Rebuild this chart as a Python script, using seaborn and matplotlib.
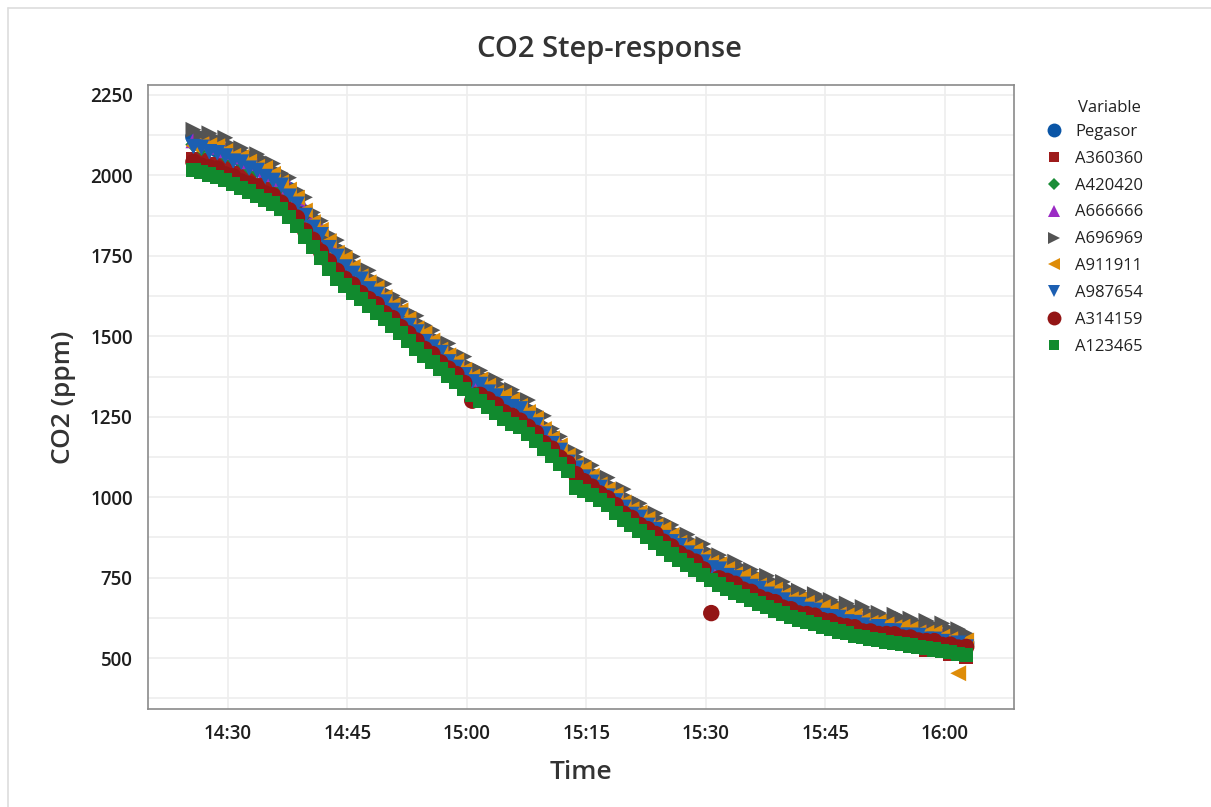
import matplotlib
matplotlib.use("Agg")
import matplotlib.pyplot as plt
import matplotlib.dates as mdates
from matplotlib.lines import Line2D
from matplotlib.ticker import MultipleLocator
import numpy as np
import pandas as pd
import seaborn as sns

# ---------------- data ----------------
start_time = "2024-01-01 14:25:40"
n_samples = 98   # one reading per minute

pegasor = [2120, 2112, 2100, 2080, 2069, 2064, 2049, 2035, 2030, 2011,
           2000, 1975, 1955, 1920, 1884, 1858, 1823, 1788, 1763, 1730,
           1711, 1683, 1667, 1595, 1615, 1600, 1573, 1546, 1528, 1498,
           1482, 1455, 1440, 1413, 1389, 1378, 1358, 1339, 1329, 1305,
           1297, 1280, 1264, 1234, 1205, 1186, 1153, 1121, 1105, 1077,
           1062, 1036, 1023, 998, 977, 966, 945, 925, 914, 889,
           877, 855, 846, 825, 807, 800, 784, 769, 764, 744,
           738, 722, 718, 702, 689, 686, 674, 664, 663, 647,
           644, 632, 632, 620, 611, 613, 605, 597, 599, 586,
           586, 576, 578, 568, 560, 562, 554, 547]

a360360 = [2050, 2048, 2034, 2031, 2027, 2007, 2000, 1985, 1969, 1967,
           1955, 1940, 1906, 1881, 1852, 1811, 1784, 1748, 1712, 1696,
           1666, 1648, 1618, 1601, 1583, 1553, 1534, 1506, 1477, 1464,
           1445, 1428, 1399, 1382, 1365, 1339, 1327, 1307, 1286, 1279,
           1260, 1253, 1223, 1203, 1181, 1147, 1122, 1089, 1062, 1051,
           1025, 1009, 982, 967, 953, 927, 914, 893, 871, 863,
           840, 828, 805, 794, 783, 761, 753, 737, 721, 718,
           701, 695, 677, 671, 665, 647, 643, 632, 620, 621,
           607, 605, 591, 589, 587, 564, 564, 555, 546, 550,
           539, 539, 527, 527, 526, 513, 513, 505]

a420420 = [2096, 2085, 2083, 2077, 2063, 2053, 2044, 2025, 2016, 2008,
           1991, 1967, 1945, 1917, 1878, 1847, 1818, 1778, 1749, 1727,
           1702, 1675, 1657, 1637, 1609, 1589, 1568, 1536, 1514, 1495,
           1473, 1447, 1430, 1410, 1383, 1367, 1353, 1329, 1315, 1302,
           1288, 1272, 1254, 1231, 1199, 1175, 1148, 1111, 1091, 1074,
           1053, 1028, 1013, 995, 971, 955, 940, 915, 900, 886,
           868, 847, 836, 822, 801, 789, 779, 759, 750, 741,
           729, 714, 708, 699, 683, 675, 669, 654, 649, 644,
           635, 624, 622, 617, 605, 602, 600, 587, 585, 583,
           577, 568, 568, 565, 554, 551, 549, 537]

a666666 = [2109, 2107, 2103, 2089, 2078, 2073, 2059, 2044, 2038, 2018,
           2004, 1989, 1965, 1929, 1893, 1867, 1833, 1797, 1771, 1737,
           1715, 1697, 1677, 1649, 1624, 1609, 1583, 1555, 1536, 1505,
           1486, 1469, 1450, 1422, 1398, 1387, 1368, 1348, 1337, 1312,
           1301, 1294, 1274, 1243, 1214, 1195, 1163, 1130, 1113, 1084,
           1066, 1050, 1033, 1007, 986, 975, 955, 934, 922, 896,
           881, 869, 856, 834, 816, 809, 794, 778, 772, 751,
           742, 736, 728, 711, 698, 695, 684, 673, 671, 654,
           648, 646, 642, 629, 620, 622, 615, 606, 607, 593,
           590, 590, 588, 577, 569, 571, 564, 556]

a696969 = [2142, 2125, 2131, 2113, 2117, 2091, 2085, 2064, 2066, 2047,
           2037, 2007, 1993, 1953, 1932, 1885, 1859, 1817, 1799, 1766,
           1748, 1715, 1705, 1673, 1663, 1627, 1609, 1575, 1564, 1534,
           1519, 1487, 1478, 1446, 1437, 1405, 1394, 1368, 1365, 1341,
           1334, 1312, 1302, 1267, 1253, 1213, 1189, 1150, 1141, 1113,
           1099, 1068, 1061, 1031, 1025, 993, 981, 954, 950, 925,
           914, 887, 884, 858, 855, 827, 820, 798, 800, 780,
           775, 754, 756, 735, 737, 713, 710, 693, 699, 683,
           681, 664, 670, 653, 659, 640, 641, 626, 635, 622,
           623, 608, 616, 601, 608, 589, 590, 576]

a911911 = [2092, 2097, 2094, 2091, 2076, 2061, 2057, 2043, 2027, 2023,
           2005, 1979, 1956, 1931, 1891, 1855, 1831, 1796, 1760, 1742,
           1716, 1687, 1668, 1651, 1622, 1597, 1581, 1554, 1525, 1510,
           1487, 1459, 1441, 1424, 1396, 1375, 1366, 1347, 1326, 1317,
           1302, 1284, 1265, 1245, 1212, 1183, 1161, 1129, 1102, 1089,
           1067, 1040, 1024, 1009, 984, 963, 953, 933, 911, 901,
           882, 859, 847, 836, 814, 797, 792, 777, 761, 756,
           743, 726, 719, 713, 696, 683, 682, 672, 660, 659,
           649, 636, 633, 631, 618, 610, 613, 605, 596, 598,
           591, 580, 579, 579, 567, 559, 453, 555]

a987654 = [2089, 2087, 2073, 2070, 2060, 2044, 2041, 2022, 2015, 1996,
           1984, 1969, 1935, 1910, 1875, 1838, 1815, 1775, 1748, 1715,
           1695, 1677, 1647, 1630, 1606, 1580, 1565, 1533, 1513, 1483,
           1466, 1449, 1420, 1403, 1380, 1358, 1350, 1326, 1314, 1290,
           1281, 1274, 1244, 1224, 1196, 1166, 1145, 1108, 1090, 1062,
           1046, 1030, 1003, 988, 968, 946, 937, 912, 899, 874,
           861, 849, 826, 815, 798, 780, 776, 756, 749, 729,
           722, 716, 698, 692, 680, 666, 666, 651, 648, 632,
           628, 626, 612, 610, 602, 593, 597, 584, 584, 571,
           570, 570, 558, 558, 551, 542, 546, 534]

a314159 = [2042, 2030, 2025, 2021, 2003, 1997, 1981, 1974, 1964, 1944,
           1938, 1915, 1892, 1869, 1828, 1800, 1763, 1733, 1704, 1679,
           1661, 1635, 1616, 1600, 1572, 1557, 1529, 1509, 1487, 1461,
           1445, 1419, 1400, 1383, 1355, 1300, 1318, 1304, 1288, 1264,
           1253, 1238, 1219, 1200, 1168, 1151, 1123, 1106, 1072, 1050,
           1033, 1012, 997, 976, 949, 936, 914, 901, 886, 862,
           847, 826, 812, 800, 776, 640, 748, 740, 731, 713,
           706, 690, 681, 674, 657, 652, 639, 637, 632, 618,
           615, 603, 599, 596, 583, 583, 575, 575, 574, 564,
           564, 555, 553, 553, 541, 542, 533, 535]

a123465 = [2017, 2010, 2003, 1995, 1985, 1974, 1962, 1950, 1937, 1923,
           1913, 1895, 1870, 1843, 1810, 1777, 1744, 1709, 1677, 1658,
           1636, 1615, 1594, 1574, 1554, 1534, 1510, 1485, 1460, 1440,
           1420, 1399, 1378, 1357, 1337, 1317, 1299, 1280, 1261, 1243,
           1228, 1218, 1197, 1174, 1150, 1128, 1104, 1082, 1030, 1020,
           1008, 992, 975, 950, 931, 913, 895, 877, 859, 841,
           822, 806, 790, 774, 758, 742, 729, 716, 704, 692,
           681, 670, 659, 648, 639, 629, 620, 613, 605, 597,
           590, 583, 577, 570, 565, 560, 556, 551, 547, 543,
           539, 535, 531, 527, 523, 519, 514, 509]

variables = ["Pegasor", "A360360", "A420420", "A666666", "A696969",
             "A911911", "A987654", "A314159", "A123465"]
series_values = [pegasor, a360360, a420420, a666666, a696969,
                 a911911, a987654, a314159, a123465]

y_ticks = [500, 750, 1000, 1250, 1500, 1750, 2000, 2250]

# ---------------- styles ----------------
colors = {"Pegasor": "#0A55A6", "A360360": "#9E1B1B", "A420420": "#1A8C37",
          "A666666": "#9B2BC4", "A696969": "#535353", "A911911": "#DE8C08",
          "A987654": "#1C5FB2", "A314159": "#931515", "A123465": "#118A2E"}
markers = {"Pegasor": "o", "A360360": "s", "A420420": "D", "A666666": "^",
           "A696969": ">", "A911911": "<", "A987654": "v", "A314159": "o",
           "A123465": "s"}
sizes = {"Pegasor": 140, "A360360": 105, "A420420": 68, "A666666": 130,
         "A696969": 130, "A911911": 130, "A987654": 130, "A314159": 140,
         "A123465": 105}
legend_ms = {"Pegasor": 10, "A360360": 7, "A420420": 6, "A666666": 8.5,
             "A696969": 8.5, "A911911": 8.5, "A987654": 8.5, "A314159": 10,
             "A123465": 7}

times = pd.date_range(start_time, periods=n_samples, freq="1min")
frames = []
for name, vals in zip(variables, series_values):
    frames.append(pd.DataFrame({"Time": times, "CO2": vals, "Variable": name}))
df = pd.concat(frames, ignore_index=True)

# ---------------- figure ----------------
sns.set_style("white")
plt.rcParams["font.family"] = ["Open Sans", "DejaVu Sans"]

W, H = 1211, 807
fig = plt.figure(figsize=(W / 100, H / 100), dpi=100)
ax = fig.add_axes([148 / W, 1 - 709 / H, (1014 - 148) / W, (709 - 85) / H])

sns.scatterplot(data=df, x="Time", y="CO2", hue="Variable", style="Variable",
                size="Variable", palette=colors, markers=markers, sizes=sizes,
                hue_order=variables, style_order=variables, size_order=variables,
                linewidth=0, edgecolor="none", alpha=1, legend=False, ax=ax,
                zorder=3)

ax.set_xlim(pd.Timestamp("2024-01-01 14:19:58"), pd.Timestamp("2024-01-01 16:08:40"))
ax.set_ylim(342, 2281)
ax.xaxis.set_major_locator(mdates.MinuteLocator(byminute=[0, 15, 30, 45]))
ax.xaxis.set_major_formatter(mdates.DateFormatter("%H:%M"))
ax.set_yticks(y_ticks)
ax.yaxis.set_minor_locator(MultipleLocator(125))

grid_c = "#EEEEEE"
ax.grid(True, which="major", axis="both", color=grid_c, linewidth=1.2, zorder=0)
ax.grid(True, which="minor", axis="y", color=grid_c, linewidth=1.2, zorder=0)
ax.set_axisbelow(True)

for sp in ax.spines.values():
    sp.set_color("#8A8A8A")
    sp.set_linewidth(1.2)
ax.tick_params(axis="both", which="major", direction="out", length=5, width=1,
               color="#8A8A8A", labelsize=13.5, labelcolor="#1E1E1E", pad=6)
ax.tick_params(axis="y", which="minor", length=0)
for lab in ax.get_xticklabels() + ax.get_yticklabels():
    lab.set_fontweight("semibold")

ax.set_xlabel("Time", fontsize=19, color="#333333", labelpad=11,
              fontweight="semibold")
ax.set_ylabel("CO2 (ppm)", fontsize=19, color="#333333", labelpad=10,
              fontweight="semibold")
fig.suptitle("CO2 Step-response", x=0.503, y=1 - 50 / H, va="center",
             fontsize=21, color="#333333", fontweight="semibold")

# legend
handles = [Line2D([], [], linestyle="", marker=markers[v], color=colors[v],
                  markersize=legend_ms[v], markeredgewidth=0) for v in variables]
leg = fig.legend(handles, variables, loc="upper left",
                 bbox_to_anchor=(1046 / W, 1 - 124 / H), frameon=False,
                 fontsize=12, handlelength=1.0, handletextpad=0.74,
                 labelspacing=0.65, borderpad=0, borderaxespad=0)
for t in leg.get_texts():
    t.set_color("#222222")
fig.text(1078 / W, 1 - 108 / H, "Variable", fontsize=12, color="#222222",
         ha="left", va="center")

# outer panel border (top and left)
fig.add_artist(Line2D([8 / W, 1], [1 - 8 / H, 1 - 8 / H], color="#DDDDDD", lw=1.2))
fig.add_artist(Line2D([8 / W, 8 / W], [0, 1 - 8 / H], color="#DDDDDD", lw=1.2))

fig.savefig("out.png", dpi=100, facecolor="white")
